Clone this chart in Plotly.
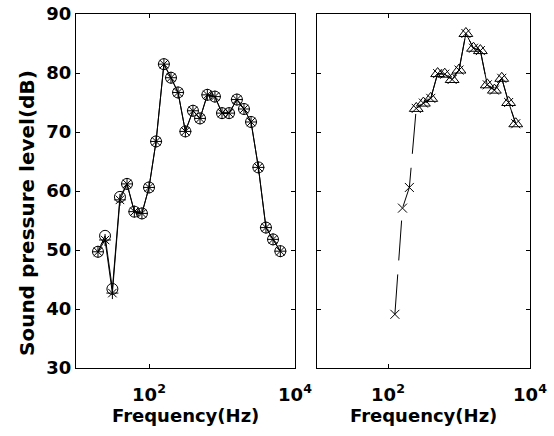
import plotly.graph_objects as go

# 1/3-octave band centre frequencies (Hz)
freq_left = [20, 25, 31.5, 40, 50, 63, 80, 100, 125, 160, 200, 250, 315, 400, 500,
             630, 800, 1000, 1250, 1600, 2000, 2500, 3150, 4000, 5000, 6300]
spl_circle = [49.7, 52.4, 43.4, 59.0, 61.2, 56.5, 56.2, 60.6, 68.4, 81.5, 79.2, 76.7, 70.1,
              73.6, 72.3, 76.3, 76.0, 73.2, 73.2, 75.5, 73.9, 71.7, 64.0, 53.8, 51.8, 49.8]
spl_star = [49.7, 51.7, 42.7, 58.5, 61.2, 56.5, 56.2, 60.6, 68.4, 81.5, 79.2, 76.7, 70.1,
            73.6, 72.3, 76.3, 76.0, 73.2, 73.2, 75.5, 73.9, 71.7, 64.0, 53.8, 51.8, 49.8]

freq_x = [125, 160, 200, 250, 315, 400, 500, 630, 800, 1000, 1250, 1600, 2000, 2500,
          3150, 4000, 5000, 6300]
spl_x = [39.1, 57.1, 60.6, 74.0, 74.9, 75.7, 79.9, 79.8, 78.9, 80.5, 86.7, 84.2, 83.8,
         78.0, 77.1, 79.1, 75.0, 71.4]
freq_tri = [250, 315, 400, 500, 630, 800, 1000, 1250, 1600, 2000, 2500, 3150, 4000, 5000, 6300]
spl_tri = [74.0, 74.9, 75.7, 79.9, 79.8, 78.9, 80.5, 86.7, 84.2, 83.8, 78.0, 77.1, 79.1, 75.0, 71.4]

y_ticks = [30, 40, 50, 60, 70, 80, 90]
x_tickvals = [100, 10000]
x_ticktext = ["10<sup>2</sup>", "10<sup>4</sup>"]

FONT = "DejaVu Sans"
W, H = 554, 436
TF = dict(family=FONT, size=18, color="black", weight="bold")

fig = go.Figure()

fig.add_trace(go.Scatter(x=freq_left, y=spl_circle, mode="lines+markers",
                         line=dict(color="black", width=1),
                         marker=dict(symbol="circle-open", size=11, color="black",
                                     line=dict(width=1, color="black")),
                         xaxis="x", yaxis="y", showlegend=False))
fig.add_trace(go.Scatter(x=freq_left, y=spl_star, mode="lines+markers",
                         line=dict(color="black", width=1),
                         marker=dict(symbol="asterisk-open", size=10, color="black",
                                     line=dict(width=1, color="black")),
                         xaxis="x", yaxis="y", showlegend=False))

fig.add_trace(go.Scatter(x=freq_x, y=spl_x, mode="lines+markers",
                         line=dict(color="black", width=1, dash="40px,14px"),
                         marker=dict(symbol="x-thin-open", size=9, color="black",
                                     line=dict(width=1, color="black")),
                         xaxis="x2", yaxis="y2", showlegend=False))
fig.add_trace(go.Scatter(x=freq_tri, y=spl_tri, mode="lines+markers",
                         line=dict(color="black", width=1),
                         marker=dict(symbol="triangle-up-open", size=12, color="black",
                                     line=dict(width=1, color="black")),
                         xaxis="x2", yaxis="y2", showlegend=False))

x0l, x1l = 76 / W, 295 / W
x0r, x1r = 317 / W, 530 / W
ytop, ybot = 1 - 14 / H, 1 - 368 / H

xcommon = dict(type="log", range=[1, 4], tickvals=x_tickvals, ticktext=x_ticktext,
               ticks="inside", ticklen=4, tickcolor="black", showline=True,
               linecolor="black", linewidth=1, mirror="ticks", showgrid=False,
               zeroline=False, automargin=False, tickfont=TF, ticklabelstandoff=10)
ycommon = dict(range=[30, 90], tickvals=y_ticks, ticks="inside", ticklen=4,
               tickcolor="black", showline=True, linecolor="black", linewidth=1,
               mirror="ticks", showgrid=False, zeroline=False, automargin=False,
               tickfont=TF)

fig.update_layout(
    width=W, height=H, margin=dict(l=0, r=0, t=0, b=0),
    paper_bgcolor="white", plot_bgcolor="white",
    font=dict(family=FONT, color="black"),
    xaxis=dict(domain=[x0l, x1l], anchor="y", **xcommon),
    yaxis=dict(domain=[ybot, ytop], anchor="x", **ycommon),
    xaxis2=dict(domain=[x0r, x1r], anchor="y2", **xcommon),
    yaxis2=dict(domain=[ybot, ytop], anchor="x2", showticklabels=False, **ycommon),
    annotations=[
        dict(text="<b>Frequency(Hz)</b>", x=(x0l + x1l) / 2, y=1 - 415 / H,
             xref="paper", yref="paper", showarrow=False,
             xanchor="center", yanchor="middle",
             font=dict(family=FONT, size=18, color="black")),
        dict(text="<b>Frequency(Hz)</b>", x=(x0r + x1r) / 2, y=1 - 415 / H,
             xref="paper", yref="paper", showarrow=False,
             xanchor="center", yanchor="middle",
             font=dict(family=FONT, size=18, color="black")),
        dict(text="<b>Sound pressure level(dB)</b>", x=27 / W, y=1 - 213 / H,
             xref="paper", yref="paper", showarrow=False, textangle=-90,
             xanchor="center", yanchor="middle",
             font=dict(family=FONT, size=20, color="black")),
    ],
)
fig.write_html("out.html", config={"displayModeBar": False},
               post_script="document.body.style.margin='0px';")
